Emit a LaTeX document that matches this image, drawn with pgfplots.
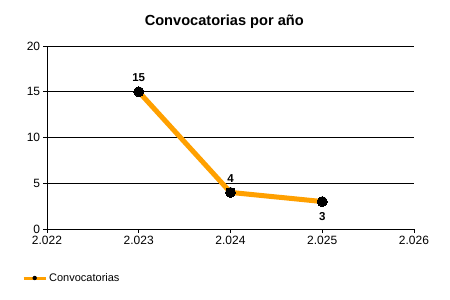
\documentclass[border=0pt]{standalone}
\usepackage{fontspec}
\setmainfont{Liberation Sans}
\usepackage{pgfplots}
\pgfplotsset{compat=1.18}
\definecolor{lineor}{HTML}{FFA000}
\begin{document}
\fontsize{11bp}{13bp}\selectfont
\begin{tikzpicture}
\path[use as bounding box] (-47bp,-71bp) rectangle (403bp,229bp);
\begin{axis}[
  at={(0,0)}, anchor=south west,
  scale only axis, width=367bp, height=183bp,
  xmin=2022, xmax=2026, ymin=0, ymax=20,
  xtick={2022,2023,2024,2025,2026},
  xticklabels={2.022,2.023,2.024,2.025,2.026},
  ytick={0,5,10,15,20},
  /pgf/number format/assume math mode=true,
  axis x line*=bottom, axis y line*=left,
  axis line style={black, line width=0.8bp, -},
  tick align=outside, major tick length=4bp,
  tick style={black, line width=0.8bp},
  ymajorgrids, grid style={black, line width=0.8bp},
  tick label style={font=\fontsize{12bp}{14bp}\selectfont},
  xticklabel style={yshift=1bp},
  yticklabel style={xshift=1bp},
  title={\bfseries Convocatorias por año},
  title style={font=\fontsize{14.6bp}{17bp}\selectfont, at={(0.483,1)}, yshift=8bp},
  legend style={at={(axis description cs:0,0)}, anchor=west, xshift=-25bp, yshift=-49bp, draw=none, fill=none, font=\fontsize{11bp}{13bp}\selectfont, inner sep=0pt},
  legend cell align=left,
  clip=false,
]
\addplot[lineor, line width=5bp, mark=*, mark size=5bp, mark options={fill=black, draw=black, line width=0pt},
  legend image code/.code={\draw[lineor, line width=3bp] (0bp,0bp) -- (22bp,0bp); \path[fill=black, draw=none] (11bp,0bp) circle (2.2bp);}]
  coordinates {(2023,15) (2024,4) (2025,3)};
\addlegendentry{Convocatorias}
\addplot[draw=none, nodes near coords, nodes near coords style={font=\bfseries\fontsize{11.5bp}{13bp}\selectfont, anchor=south, yshift=6bp}, forget plot]
  coordinates {(2023,15) (2024,4)};
\addplot[draw=none, nodes near coords, nodes near coords style={font=\bfseries\fontsize{11.5bp}{13bp}\selectfont, anchor=north, yshift=-7bp}, forget plot]
  coordinates {(2025,3)};
\end{axis}
\end{tikzpicture}
\end{document}
